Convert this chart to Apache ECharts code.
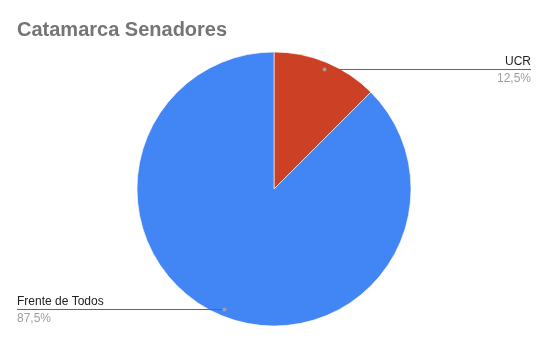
<!DOCTYPE html>
<html><head><meta charset="utf-8">
<script src="https://cdn.jsdelivr.net/npm/echarts@6/dist/echarts.min.js"></script>
<style>html,body{margin:0;padding:0;background:#fff}#c{width:549px;height:344px}</style>
</head><body><div id="c"></div>
<script>
const titleText = 'Catamarca Senadores';
const categories = ['UCR', 'Frente de Todos'];
const values = [12.5, 87.5];
const sliceColors = ['#cc4125', '#4285f4'];

const chart = echarts.init(document.getElementById('c'), null, {renderer: 'canvas'});
const CX = 274, CY = 189, R = 137;
const W = 549;
const total = values.reduce((a, b) => a + b, 0);
function midAngle(i) {
  let acc = 0;
  for (let k = 0; k < i; k++) acc += values[k];
  return (acc + values[i] / 2) / total * Math.PI * 2;
}
function dotPos(i) {
  const a = midAngle(i);
  return [CX + Math.sin(a) * R * 0.95, CY - Math.cos(a) * R * 0.95];
}
function labelX(i) { return Math.sin(midAngle(i)) >= 0 ? W - 18 : 17; }
const guides = [];
categories.forEach((c, i) => {
  const p = dotPos(i);
  const y = Math.round(p[1]) + 0.5;
  guides.push({type: 'line', zlevel: 1, z: 100, shape: {x1: p[0], y1: y, x2: labelX(i), y2: y}, style: {stroke: '#666666', lineWidth: 1}});
  guides.push({type: 'circle', zlevel: 1, z: 101, shape: {cx: Math.round(p[0]) + 0.5, cy: y, r: 2}, style: {fill: '#9e9e9e'}});
});
const option = {
  animation: false,
  backgroundColor: '#fff',
  title: {
    text: titleText, left: 12, top: 15,
    textStyle: {fontFamily: 'Arial, Liberation Sans', fontSize: 20, fontWeight: 'bold', color: '#757575'}
  },
  graphic: {elements: guides},
  series: [{
    type: 'pie',
    center: [CX, CY],
    radius: R,
    startAngle: 90,
    clockwise: true,
    data: categories.map((c, i) => ({name: c, value: values[i], itemStyle: {color: sliceColors[i]}})),
    itemStyle: {borderColor: '#ffffff', borderWidth: 0.6},
    emphasis: {disabled: true},
    label: {
      show: true,
      position: 'outside',
      fontFamily: 'Arial, Liberation Sans',
      formatter: p => '{n|' + p.name + '}\n{p|' + p.percent.toFixed(1).replace('.', ',') + '%}',
      rich: {
        n: {fontFamily: 'Arial, Liberation Sans', fontSize: 12, color: '#222222', lineHeight: 17},
        p: {fontFamily: 'Arial, Liberation Sans', fontSize: 12, color: '#9e9e9e', lineHeight: 17}
      }
    },
    labelLine: {show: false},
    labelLayout: function (params) {
      const i = params.dataIndex;
      const p = dotPos(i);
      const y = Math.round(p[1]) + 0.5;
      const right = Math.sin(midAngle(i)) >= 0;
      return {
        x: labelX(i), y: y + 0.5,
        align: right ? 'right' : 'left',
        verticalAlign: 'middle'
      };
    }
  }]
};
chart.setOption(option);
</script></body></html>
